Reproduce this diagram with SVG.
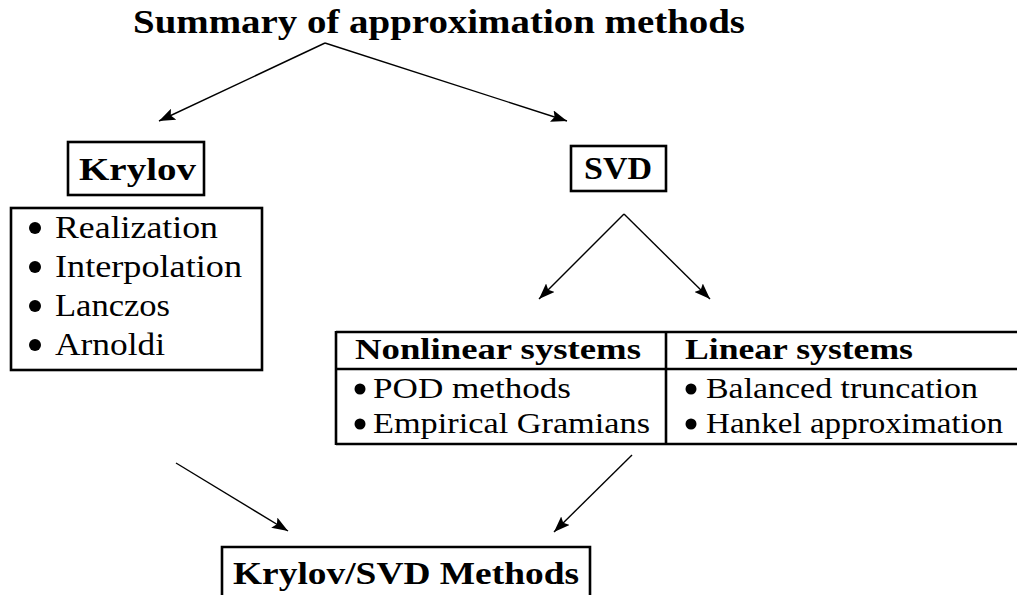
<svg xmlns="http://www.w3.org/2000/svg" width="1017" height="595" viewBox="0 0 1017 595">
<defs>
<style>
.t{font-family:"Liberation Serif","Times New Roman",serif;fill:#000;}
.b{font-weight:bold;}
.box{fill:none;stroke:#000;stroke-width:2.6;}
.ln{stroke:#000;stroke-width:2.6;fill:none;}
.c{stroke:#000;stroke-width:1.4;fill:none;marker-end:url(#ah);}
</style>
<marker id="ah" markerUnits="userSpaceOnUse" markerWidth="18" markerHeight="12" refX="16" refY="6" orient="auto">
<path d="M0,0 L16,6 L0,12 L3,6 z" fill="#000"/>
</marker>
</defs>
<rect width="1017" height="595" fill="#fff"/>
<g id="title">
<text class="t b" x="133" y="33" font-size="33" textLength="612" lengthAdjust="spacingAndGlyphs">Summary of approximation methods</text>
</g>
<g id="connectors">
<line class="c" x1="325" y1="43" x2="159" y2="121"/>
<line class="c" x1="325" y1="43" x2="567" y2="121"/>
<line class="c" x1="624" y1="214" x2="539" y2="299"/>
<line class="c" x1="624" y1="214" x2="710" y2="299"/>
<line class="c" x1="176" y1="463" x2="288" y2="531"/>
<line class="c" x1="632" y1="455" x2="554" y2="532"/>
</g>
<g id="krylov">
<rect class="box" x="68" y="142" width="136" height="53"/>
<text class="t b" x="79" y="180" font-size="32" textLength="117" lengthAdjust="spacingAndGlyphs">Krylov</text>
</g>
<g id="krylov-list">
<rect class="box" x="11" y="208" width="251" height="162"/>
<circle cx="35" cy="228" r="6"/>
<text class="t" x="55" y="238" font-size="32" textLength="163" lengthAdjust="spacingAndGlyphs">Realization</text>
<circle cx="35" cy="267" r="6"/>
<text class="t" x="55" y="277" font-size="32" textLength="187" lengthAdjust="spacingAndGlyphs">Interpolation</text>
<circle cx="35" cy="306" r="6"/>
<text class="t" x="55" y="316" font-size="32" textLength="115" lengthAdjust="spacingAndGlyphs">Lanczos</text>
<circle cx="35" cy="345" r="6"/>
<text class="t" x="55" y="355" font-size="32" textLength="110" lengthAdjust="spacingAndGlyphs">Arnoldi</text>
</g>
<g id="svd">
<rect class="box" x="571" y="146" width="95" height="45"/>
<text class="t b" x="584" y="179" font-size="31" textLength="68" lengthAdjust="spacingAndGlyphs">SVD</text>
</g>
<g id="table">
<line class="ln" x1="336" y1="332" x2="1017" y2="332"/>
<line class="ln" x1="336" y1="369" x2="1017" y2="369"/>
<line class="ln" x1="336" y1="444" x2="1017" y2="444"/>
<line class="ln" x1="336" y1="331" x2="336" y2="445"/>
<line class="ln" x1="666" y1="331" x2="666" y2="445"/>
<text class="t b" x="355" y="359" font-size="30" textLength="286" lengthAdjust="spacingAndGlyphs">Nonlinear systems</text>
<text class="t b" x="685" y="359" font-size="30" textLength="228" lengthAdjust="spacingAndGlyphs">Linear systems</text>
<circle cx="360" cy="389" r="5.5"/>
<text class="t" x="373" y="398" font-size="30" textLength="198" lengthAdjust="spacingAndGlyphs">POD methods</text>
<circle cx="360" cy="424" r="5.5"/>
<text class="t" x="373" y="433" font-size="30" textLength="277" lengthAdjust="spacingAndGlyphs">Empirical Gramians</text>
<circle cx="691" cy="389" r="5.5"/>
<text class="t" x="706" y="398" font-size="30" textLength="272" lengthAdjust="spacingAndGlyphs">Balanced truncation</text>
<circle cx="691" cy="424" r="5.5"/>
<text class="t" x="706" y="433" font-size="30" textLength="297" lengthAdjust="spacingAndGlyphs">Hankel approximation</text>
</g>
<g id="krylov-svd">
<path class="ln" d="M222,600 V547 H590 V600"/>
<text class="t b" x="233" y="584" font-size="31" textLength="346" lengthAdjust="spacingAndGlyphs">Krylov/SVD Methods</text>
</g>
</svg>
